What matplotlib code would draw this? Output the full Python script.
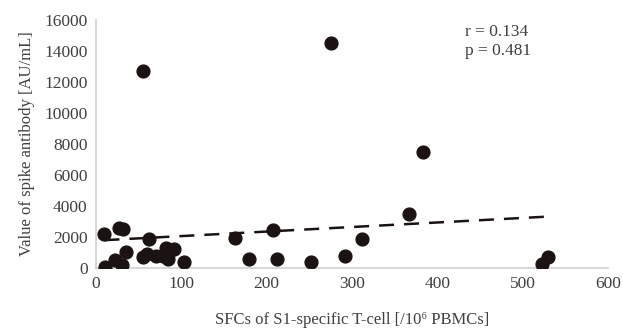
import matplotlib.pyplot as plt
import numpy as np

plt.rcParams['font.family'] = ['Liberation Serif', 'DejaVu Serif']

# SFCs of S1-specific T-cell vs spike antibody value
sfc = [10, 11, 22, 27, 32, 30, 35, 55, 55, 62, 60, 70, 78, 82, 84, 88, 92, 103,
       163, 179, 208, 212, 252, 275, 292, 312, 367, 383, 523, 530]
antibody = [2200, 50, 500, 2600, 2500, 200, 1050, 12700, 700, 1850, 900, 800, 800, 1300,
            600, 1150, 1200, 400, 1950, 600, 2450, 580, 400, 14550, 800, 1900, 3500,
            7500, 250, 700]

r_text = "r = 0.134\np = 0.481"

fig = plt.figure(figsize=(6.23, 3.30), dpi=100)
ax = fig.add_axes([0.154, 0.188, 0.822, 0.751])

ax.scatter(sfc, antibody, s=85, color='#1a1311', zorder=3)

# linear trend line
x = np.array(sfc)
y = np.array(antibody)
k, b = np.polyfit(x, y, 1)
xs = np.array([x.min(), x.max()])
ax.plot(xs, k * xs + b, color='#1a1311', linestyle=(0, (6, 4)), linewidth=1.8, zorder=2)

ax.set_xlim(0, 600)
ax.set_ylim(0, 16000)
ax.set_xticks(range(0, 601, 100))
ax.set_yticks(range(0, 16001, 2000))
ax.tick_params(length=0, labelsize=12.5, colors='#404040', pad=6)
for s in ['top', 'right']:
    ax.spines[s].set_visible(False)
for s in ['left', 'bottom']:
    ax.spines[s].set_color('#d0d0d0')
    ax.spines[s].set_linewidth(1.2)

ax.set_xlabel("SFCs of S1-specific T-cell [/10\u2076 PBMCs]", fontsize=12, color='#404040', labelpad=14)
ax.set_ylabel("Value of spike antibody [AU/mL]", fontsize=12, color='#404040', labelpad=7)

ax.text(0.72, 0.985, r_text, transform=ax.transAxes, fontsize=12.5, color='#404040',
        va='top', ha='left', linespacing=1.25)

fig.savefig('out.png', dpi=100)
